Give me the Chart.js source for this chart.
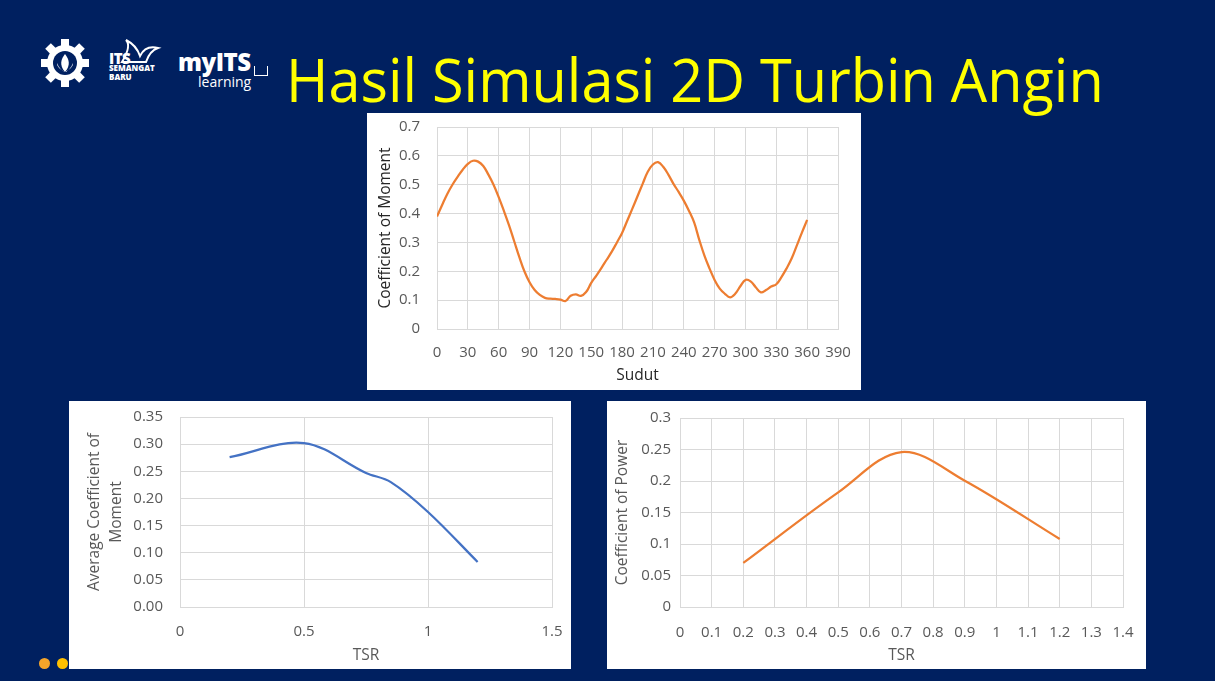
<!DOCTYPE html>
<html>
<head>
<meta charset="utf-8">
<script src="https://cdn.jsdelivr.net/npm/chart.js@4.4.1/dist/chart.umd.min.js"></script>
<style>
  html, body { margin: 0; padding: 0; }
  body { width: 1215px; height: 681px; background: #002060; position: relative; overflow: hidden; font-family: 'Open Sans', sans-serif; }
  .box { position: absolute; background: #fff; }
  .box canvas { position: absolute; left: 0; top: 0; }
  #title { position: absolute; left: 286px; top: 48px; color: #ffff00; font-size: 61px; line-height: 1; white-space: nowrap; transform-origin: 0 0; }
  .dot { position: absolute; width: 11px; height: 11px; border-radius: 50%; }
  .logo { position: absolute; color: #fff; font-family: 'Open Sans', sans-serif; white-space: nowrap; }
</style>
</head>
<body>

<svg style="position:absolute;left:40px;top:38px" width="50" height="50" viewBox="0 0 50 50">
  <g fill="#fff" transform="translate(25,25)">
    <rect x="-4" y="-24" width="8" height="8"/>
    <rect x="-4" y="16" width="8" height="8"/>
    <rect x="-24" y="-4" width="8" height="8"/>
    <rect x="16" y="-4" width="8" height="8"/>
    <rect x="-4" y="-24" width="8" height="8" transform="rotate(45)"/>
    <rect x="-4" y="16" width="8" height="8" transform="rotate(45)"/>
    <rect x="-24" y="-4" width="8" height="8" transform="rotate(45)"/>
    <rect x="16" y="-4" width="8" height="8" transform="rotate(45)"/>
    <circle r="18"/>
    <circle r="12" fill="#002060"/>
    <path d="M0,-9 C4,-4 6,2 0,9 C-6,2 -4,-4 0,-9Z"/>
    <path d="M-8,0 C-6,5 -3,8 0,9 C-5,6 -8,4 -8,0Z"/>
    <path d="M8,0 C6,5 3,8 0,9 C5,6 8,4 8,0Z"/>
  </g>
</svg>
<svg style="position:absolute;left:120px;top:38px" width="42" height="28" viewBox="0 0 42 28">
  <path d="M2,24 C8,14 10,6 6,2 C14,6 18,12 20,18 C24,10 30,8 38,10 C32,12 28,18 26,24 Z" fill="none" stroke="#fff" stroke-width="2"/>
</svg>
<div class="logo" style="left:109px;top:48px;font-size:15px;font-weight:800;letter-spacing:-0.5px">ITS</div>
<div class="logo" style="left:109px;top:63px;font-size:8px;font-weight:800;line-height:9px">SEMANGAT<br>BARU</div>
<div class="logo" style="left:178px;top:45px;font-size:24px;font-weight:800;letter-spacing:-0.5px">myITS</div>
<div class="logo" style="left:198px;top:73px;font-size:14px;line-height:18px">learning</div>
<div style="position:absolute;left:254px;top:66px;width:12px;height:9px;border:1.5px solid #fff;border-top:none"></div>

<div id="title"><span id="titleText">Hasil Simulasi 2D Turbin Angin</span></div>

<div class="box" style="left:367px;top:113px;width:494px;height:277px"><canvas id="cmChart" width="494" height="277"></canvas></div>
<div class="box" style="left:69px;top:401px;width:502px;height:268px"><canvas id="avgChart" width="502" height="268"></canvas></div>
<div class="box" style="left:607px;top:401px;width:539px;height:268px"><canvas id="cpChart" width="539" height="268"></canvas></div>

<div class="dot" style="left:39px;top:658px;background:#f5a52a"></div>
<div class="dot" style="left:57px;top:658px;background:#ffc000"></div>

<script>
// Coefficient of Moment vs Sudut
const sudut = [0, 5, 10, 15, 20, 25, 30, 35, 40, 45, 50, 55, 60, 65, 70, 75, 80, 85, 90, 95,
  100, 105, 110, 115, 120, 125, 130, 135, 140, 145, 150, 155, 160, 165, 170, 175, 180, 185, 190, 195,
  200, 205, 210, 215, 220, 225, 230, 235, 240, 245, 250, 255, 260, 265, 270, 275, 280, 285, 290, 295,
  300, 305, 310, 315, 320, 325, 330, 335, 340, 345, 350, 355, 360];
const cmMoment = [0.390, 0.430, 0.468, 0.500, 0.527, 0.552, 0.572, 0.583, 0.580, 0.565,
  0.535, 0.500, 0.457, 0.410, 0.360, 0.305, 0.250, 0.200, 0.162, 0.135,
  0.118, 0.108, 0.105, 0.104, 0.102, 0.097, 0.115, 0.120, 0.115, 0.128,
  0.160, 0.185, 0.212, 0.240, 0.268, 0.300, 0.333, 0.375, 0.417, 0.460,
  0.503, 0.545, 0.570, 0.578, 0.562, 0.535, 0.503, 0.475, 0.445, 0.410,
  0.370, 0.310, 0.255, 0.210, 0.170, 0.140, 0.122, 0.110, 0.122, 0.148,
  0.170, 0.165, 0.145, 0.127, 0.135, 0.147, 0.155, 0.180, 0.210, 0.245,
  0.290, 0.335, 0.378];

// Average Coefficient of Moment vs TSR
const tsrAvg = [0.2, 0.5, 0.75, 0.85, 1.0, 1.2];
const avgMoment = [0.276, 0.302, 0.247, 0.230, 0.175, 0.083];

// Coefficient of Power vs TSR
const tsrCp = [0.2, 0.5, 0.7, 0.9, 1.2];
const cpPower = [0.070, 0.182, 0.246, 0.2005, 0.108];

// fit title width
const tt = document.getElementById('titleText');
document.getElementById('title').style.transform = 'scaleX(' + (818 / tt.offsetWidth) + ')';

const tickFont = { family: "'Open Sans', sans-serif", size: 15 };
const gridColor = '#d9d9d9';
const plain = v => String(Math.round(v * 100) / 100);

// gaps between plot and labels come from invisible tick marks (tickLength),
// so chart.js does not push the plot area in to make room for ticks.padding
function lineChart(id, xs, ys, color, c) {
  return new Chart(document.getElementById(id), {
    type: 'line',
    data: {
      datasets: [{
        data: xs.map((x, i) => ({ x: x, y: ys[i] })),
        borderColor: color,
        borderWidth: 2.25,
        pointRadius: 0,
        tension: c.tension,
        fill: false
      }]
    },
    options: {
      responsive: false,
      animation: false,
      events: [],
      layout: { padding: { top: c.top, right: c.right, left: 0, bottom: 0 } },
      plugins: { legend: { display: false }, tooltip: { enabled: false } },
      scales: {
        x: {
          type: 'linear', min: c.xMin, max: c.xMax,
          afterFit: s => { s.height = c.xH; },
          ticks: { stepSize: c.xStep, padding: 0, color: '#595959', font: tickFont, autoSkip: false, maxRotation: 0, callback: plain },
          grid: { color: gridColor, drawTicks: true, tickLength: c.xPad, tickColor: 'rgba(0,0,0,0)' },
          border: { color: gridColor },
          title: { display: true, text: c.xTitle, color: c.titleColor, font: { family: "'Open Sans', sans-serif", size: 15.5 }, padding: { top: 0, bottom: c.xTitlePad } }
        },
        y: {
          min: 0, max: c.yMax,
          afterFit: s => { s.width = c.yW; },
          ticks: { stepSize: c.yStep, padding: 0, color: '#595959', font: tickFont, callback: c.yFmt },
          grid: { color: gridColor, drawTicks: true, tickLength: c.yPad, tickColor: 'rgba(0,0,0,0)' },
          border: { color: gridColor },
          title: { display: true, text: c.yTitle, color: c.titleColor, font: { family: "'Open Sans', sans-serif", size: 15.5, lineHeight: c.yLine }, padding: { top: c.yTitlePad, bottom: 0 } }
        }
      }
    }
  });
}

lineChart('cmChart', sudut, cmMoment, '#ed7d31', {
  tension: 0.4, top: 14, right: 23, xH: 61, yW: 70,
  xMin: 0, xMax: 390, xStep: 30, xPad: 15, xTitle: 'Sudut', xTitlePad: 5,
  yMax: 0.7, yStep: 0.1, yPad: 17, yTitle: 'Coefficient of Moment', yTitlePad: 9, yLine: 1.2,
  titleColor: '#262626', yFmt: plain
});

lineChart('avgChart', tsrAvg, avgMoment, '#4472c4', {
  tension: 0.35, top: 16, right: 19, xH: 62, yW: 111,
  xMin: 0, xMax: 1.5, xStep: 0.5, xPad: 16, xTitle: 'TSR', xTitlePad: 4,
  yMax: 0.35, yStep: 0.05, yPad: 17, yTitle: ['Average Coefficient of', 'Moment'], yTitlePad: 15, yLine: 22 / 15.5,
  titleColor: '#595959', yFmt: v => v.toFixed(2)
});

lineChart('cpChart', tsrCp, cpPower, '#ed7d31', {
  tension: 0.35, top: 17, right: 23, xH: 62, yW: 73,
  xMin: 0, xMax: 1.4, xStep: 0.1, xPad: 17, xTitle: 'TSR', xTitlePad: 4,
  yMax: 0.3, yStep: 0.05, yPad: 9, yTitle: 'Coefficient of Power', yTitlePad: 6, yLine: 1.2,
  titleColor: '#595959', yFmt: plain
});
</script>
</body>
</html>
